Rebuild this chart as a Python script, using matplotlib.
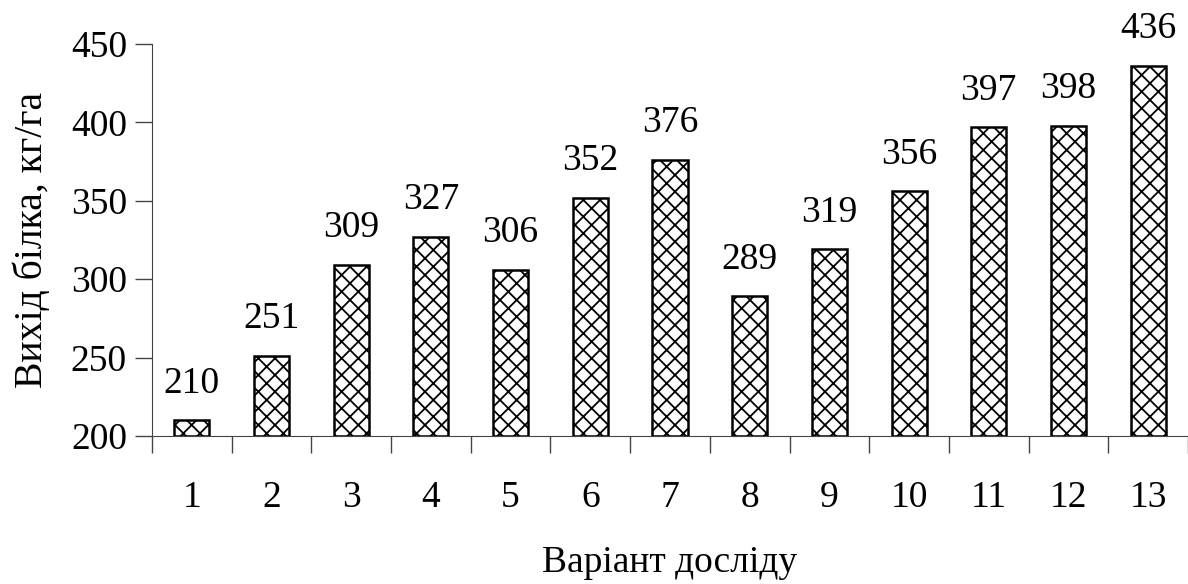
import numpy as np
import matplotlib.pyplot as plt

variants = ["1", "2", "3", "4", "5", "6", "7", "8", "9", "10", "11", "12", "13"]
protein = [210, 251, 309, 327, 306, 352, 376, 289, 319, 356, 397, 398, 436]
yticks = [200, 250, 300, 350, 400, 450]

plt.rcParams['font.family'] = ['Liberation Serif', 'DejaVu Serif']
plt.rcParams['hatch.linewidth'] = 1.3

fig = plt.figure(figsize=(11.88, 5.84), dpi=100)
ax = fig.add_axes([152 / 1188, 1 - 436 / 584, (1188 - 152) / 1188, (436 - 44) / 584])

x = np.arange(len(variants))
ax.bar(x, np.array(protein) - 200, bottom=200, width=0.44, color='white',
       edgecolor='black', linewidth=1.8, hatch='xx')

for xi, v in zip(x, protein):
    ax.text(xi, v + 12.5, str(v), ha='center', va='bottom', fontsize=27)

ax.set_xlim(-0.5, len(variants) - 0.5)
ax.set_ylim(200, 450)
ax.set_yticks(yticks)
ax.set_yticklabels([str(t) for t in yticks], fontsize=27)

ax.set_xticks(x)
ax.set_xticklabels(variants, fontsize=27)
ax.tick_params(axis='x', length=0, pad=32)
ax.set_xticks(np.arange(-0.5, len(variants), 1.0), minor=True)
ax.tick_params(axis='x', which='minor', length=12, direction='out', width=1, color='#444444')
ax.tick_params(axis='y', length=12, direction='out', width=1, color='#444444', pad=6)

ax.spines['top'].set_visible(False)
ax.spines['right'].set_visible(False)
ax.spines['left'].set_color('#444444')
ax.spines['bottom'].set_color('#444444')

ax.set_ylabel("Вихід білка, кг/га", fontsize=28.5, labelpad=14)
ax.set_xlabel("Варіант досліду", fontsize=27, labelpad=22)

fig.savefig("out.png", dpi=100)
